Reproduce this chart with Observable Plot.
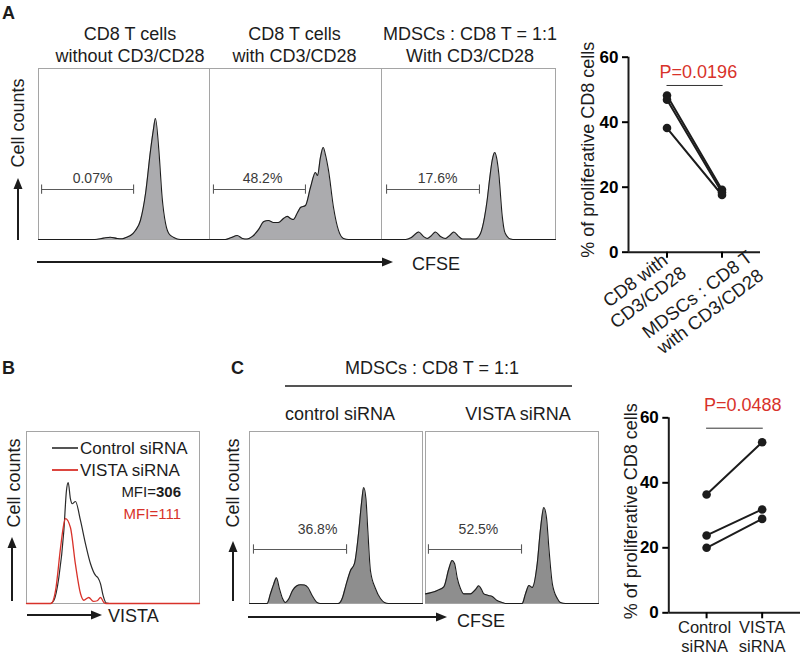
<!DOCTYPE html>
<html><head><meta charset="utf-8">
<script src="https://cdn.jsdelivr.net/npm/d3@7"></script>
<script src="https://cdn.jsdelivr.net/npm/@observablehq/plot@0.6"></script>
<style>
body{margin:0;background:#fff;}
#fig{position:relative;width:800px;height:657px;overflow:hidden;background:#fff;font-family:"Liberation Sans",Arial,Helvetica,sans-serif;}
.pos{position:absolute;}
</style></head><body><div id="fig"></div>
<script>
// ---------- DATA ----------
// CFSE histograms: [channel (0-100), relative count (0-100)]
const histA1 = [[0,0],[33,0],[38,0.8],[42,1.3],[46,0.6],[49,0.4],[52,1.5],[53.8,2.3],[56.7,5.3],[59.6,11.1],[62.6,26.9],[65.5,52],[67.1,63.7],[68.4,70.8],[70.4,52],[72.3,24.6],[74.3,9.4],[76.2,3.5],[79.1,1.2],[83,0],[100,0]];
const histA2 = [[0,0],[9.3,0],[12.8,1.2],[16.1,2.3],[19.2,0.6],[21.9,0.3],[25,1.8],[28.5,5.8],[31.6,10.5],[34.3,11.1],[37.2,9.9],[40.1,9.9],[43,12.3],[45.2,13.5],[47.1,12.3],[48.8,11.7],[51.2,15.8],[52.9,18.7],[55.8,19.9],[58.7,30.4],[61.6,39.2],[62.8,37.4],[64.5,48],[66.1,53.8],[67.4,49.7],[69.2,40.4],[72.1,18.7],[75,5.3],[77.9,0.6],[80.8,0],[100,0]];
const histA3 = [[0,0],[13.8,0],[17.2,1.2],[21.4,4.4],[24.1,1.8],[26.3,0.6],[28.7,2.3],[31,4.4],[33.9,1.8],[36.8,0.6],[39.1,2.3],[41.6,4.4],[44.3,1.8],[46.6,0.3],[54,0.3],[56.9,3.5],[59.2,12.9],[60.7,22.8],[62.1,35],[63.6,46.2],[65.1,50.9],[66.1,48],[67.4,38.6],[69.4,13.5],[70.7,4.7],[72.2,1.8],[74.1,0.3],[77,0],[100,0]];
const histC1 = [[0,0],[10.2,0],[12.1,5.6],[13.9,11],[15.6,14.9],[17.3,8.7],[19.1,2.9],[20.8,0.6],[22.5,2.3],[24.9,7.6],[27.2,10.2],[29.5,10.9],[31.8,10.8],[33.8,9.3],[36.2,4.7],[39.1,0.6],[41,0],[51.4,0],[53.8,3.5],[55.5,9.7],[58.4,19.2],[60.7,23.3],[63.2,42.4],[64.7,58],[66,67.4],[67.3,61],[68.4,42.4],[69.9,19.2],[72.8,8.7],[75.7,2.9],[78,0.6],[80.3,0],[100,0]];
const histC2 = [[0,5.6],[6.8,7.6],[10.6,9.7],[13.5,20.2],[15.4,25],[16.8,23.3],[18.3,15.1],[20.2,8.7],[22.1,5.6],[26,5.6],[28.9,8.1],[30.8,10.3],[32.4,8.1],[33.7,5.6],[36.4,4.7],[38.6,4.1],[41.4,1.7],[44.3,0.6],[46.2,0],[55.9,0],[57.8,5.6],[59.8,10.5],[61.7,9.3],[64.6,23.3],[66.5,43.6],[68.4,55.8],[70,49.4],[71.3,32.6],[73.3,11.6],[76.2,2.9],[78,0.6],[80.9,0],[100,0]];
// VISTA histograms
const histBctrl = [[0,0],[13.9,0],[15.8,1.7],[18.7,15.1],[21.6,42.4],[23.1,65.7],[24.1,70.3],[25.4,60.8],[26.4,58],[28.3,59.3],[31.2,48.3],[34.1,34.7],[37,23.1],[39.9,16.3],[41.2,15.1],[42.8,11.4],[44.3,4.6],[46.2,0.2],[48,0],[100,0]];
const histBvista = [[0,0],[13.9,0],[14.9,0.6],[16.8,7.6],[19.7,32.6],[21.2,44],[22.5,49.4],[25.4,44.2],[28.3,22.7],[31.2,5.8],[33.1,1.9],[36,3.5],[38.6,1.2],[40.9,1.6],[42.8,3.5],[44.7,0.6],[46.2,0],[100,0]];
// gates: [start, end], gate height, label
const gateA = [[1.8,55.6],[2.3,55.8],[2.9,56.3]];
const gateAy = 29.2;
const gateAlabels = ["0.07%","48.2%","17.6%"];
const gateAlabelX = [31.6,30.8,32.2];
const gateC = [[2.3,56.1],[1.7,55.5]];
const gateCy = 31.4;
const gateClabels = ["36.8%","52.5%"];
const gateClabelX = [39.3,30.6];
// paired proliferation data (%)
const catsA = ["CD8 with\nCD3/CD28","MDSCs : CD8 T\nwith CD3/CD28"];
const pairA_first = [48.2, 46.9, 38.2];
const pairA_second = [19.2, 18.4, 17.6];
const catsC = ["Control\nsiRNA","VISTA\nsiRNA"];
const pairC_first = [36.4, 23.8, 20.0];
const pairC_second = [52.5, 31.8, 28.9];
const yTicks = [0,20,40,60];
const pA = "P=0.0196", pC = "P=0.0488";
const sigBarA = 51.3, sigBarC = 56.8;
// titles
const titlesA = [["CD8 T cells","without CD3/CD28"],["CD8 T cells","with CD3/CD28"],["MDSCs : CD8 T = 1:1","With CD3/CD28"]];
const titlesC = ["control siRNA","VISTA siRNA"];
const legendB = ["Control siRNA","VISTA siRNA"];
const mfiB = ["306","111"];

// ---------- STYLE ----------
const FONT = '"Liberation Sans", Arial, Helvetica, sans-serif';
const RED = "#d8322a";
const INK = "#1c1c1c";
const fig = document.getElementById("fig");
const baseStyle = {background:"transparent", overflow:"visible", fontFamily:FONT};

function place(el, left, top){
  const d = document.createElement("div");
  d.className = "pos"; d.style.left = left+"px"; d.style.top = top+"px";
  d.appendChild(el); fig.appendChild(d);
}

function hist(data, o){
  const marks = [
    Plot.frame({stroke:"#a5a5a5", strokeWidth:1}),
    Plot.areaY(data, {x:d=>d[0], y:d=>d[1], fill:o.fill, curve:"monotone-x"}),
    Plot.lineY(data, {x:d=>d[0], y:d=>d[1], stroke:INK, strokeWidth:1.1, curve:"monotone-x"}),
    Plot.ruleY([o.gateY], {x1:o.gate[0], x2:o.gate[1], stroke:"#5a5a5a", strokeWidth:1.1}),
    Plot.ruleX(o.gate, {y1:o.gateY-2.7, y2:o.gateY+2.7, stroke:"#5a5a5a", strokeWidth:1.1}),
    Plot.text([o.label], {x:o.labelX, y:o.labelY, fontSize:14, fill:"#3a3a3a"})
  ];
  const p = Plot.plot({
    width:o.w+4, height:o.h+4, margin:2,
    x:{domain:[0,100], axis:null}, y:{domain:[0,100], axis:null},
    style:baseStyle, marks
  });
  place(p, o.left-2, o.top-2);
}

// Panel A histograms
const framesA = [[38,171],[209,172],[381,174]];
[histA1,histA2,histA3].forEach((h,i)=>{
  hist(h, {left:framesA[i][0], top:68, w:framesA[i][1], h:171, fill:"#ababae",
    gate:gateA[i], gateY:gateAy, label:gateAlabels[i], labelX:gateAlabelX[i], labelY:35.7});
});
// Panel C histograms
const framesC = [[249,173],[425,173]];
[histC1,histC2].forEach((h,i)=>{
  hist(h, {left:framesC[i][0], top:431, w:framesC[i][1], h:172, fill:"#8e8e8e",
    gate:gateC[i], gateY:gateCy, label:gateClabels[i], labelX:gateClabelX[i], labelY:43});
});

// Panel B overlay histogram
{
  const p = Plot.plot({
    width:177, height:176, margin:2,
    x:{domain:[0,100], axis:null}, y:{domain:[0,100], axis:null},
    style:baseStyle,
    marks:[
      Plot.frame({stroke:"#a5a5a5"}),
      Plot.lineY(histBctrl, {x:d=>d[0], y:d=>d[1], stroke:"#2a2a2a", strokeWidth:1.2, curve:"monotone-x"}),
      Plot.lineY(histBvista, {x:d=>d[0], y:d=>d[1], stroke:RED, strokeWidth:1.3, curve:"monotone-x"})
    ]
  });
  place(p, 24, 429);
}

// paired plots
function paired(o){
  const rows = o.first.flatMap((v,i)=>[{pair:i,x:0,y:v},{pair:i,x:1,y:o.second[i]}]);
  const labelMarks = o.cats.map((c,i)=>Plot.text([c], {x:i, frameAnchor:"bottom", dx:o.lab[i][0], dy:o.lab[i][1],
    rotate:o.rot, textAnchor:"middle", lineAnchor:o.rot ? "middle" : "top", lineHeight:o.lh, fontSize:o.fs, fill:INK}));
  const p = Plot.plot({
    width:o.width, height:o.height, marginLeft:o.ml, marginRight:o.mr, marginTop:o.mt, marginBottom:o.mb,
    x:{domain:o.xdom}, y:{domain:[0,60]},
    style:baseStyle,
    marks:[
      Plot.ruleY([0], {stroke:INK, strokeWidth:2}),
      Plot.ruleX([o.xdom[0]], {stroke:INK, strokeWidth:2}),
      Plot.axisY({ticks:yTicks, tickSize:6, tickPadding:4, fontSize:17, fontWeight:"bold", strokeWidth:2, label:null}),
      Plot.axisX({ticks:[0,1], tickFormat:()=>"", tickSize:6, strokeWidth:2, label:null}),
      ...labelMarks,
      Plot.line(rows, {x:"x", y:"y", z:"pair", stroke:INK, strokeWidth:2}),
      Plot.dot(rows, {x:"x", y:"y", r:4.3, fill:INK}),
      Plot.ruleY([o.bar], {x1:0, x2:1.02, stroke:"#333", strokeWidth:1}),
      Plot.text([o.p], {x:o.px, y:o.py, fill:RED, fontSize:18}),
      Plot.text(["% of proliferative CD8 cells"], {frameAnchor:"left", dx:o.ldx, dy:o.ldy, rotate:-90, textAnchor:"middle", fontSize:18, fill:INK})
    ]
  });
  place(p, o.left, o.top);
}
paired({left:560, top:30, width:240, height:310, ml:68, mr:40, mt:26.7, mb:88.3, xdom:[-0.7,1.7],
  cats:catsA, first:pairA_first, second:pairA_second, rot:-37, lab:[[-25.7,36.3],[-18.7,50.3]], lh:1.15, fs:18.5,
  bar:sigBarA, p:pA, px:0.57, py:55.4, ldx:-40, ldy:-5});
paired({left:600, top:380, width:200, height:277, ml:68.3, mr:0, mt:37.3, mb:44.7, xdom:[-0.68,1.69],
  cats:catsC, first:pairC_first, second:pairC_second, rot:0, lab:[[-2,7],[0,7]], lh:1.15, fs:16.5,
  bar:sigBarC, p:pC, px:0.65, py:63.8, ldx:-38, ldy:-4});

// ---------- overlay text & arrows ----------
const ov = d3.create("svg").attr("width",800).attr("height",657)
  .style("position","absolute").style("left","0px").style("top","0px")
  .style("font-family",FONT).style("overflow","visible");
function txt(s,x,y,opt={}){
  const t = ov.append("text").attr("x",x).attr("y",y).attr("font-size",opt.size||18)
    .attr("fill",opt.fill||INK).attr("text-anchor",opt.anchor||"start")
    .attr("font-weight",opt.weight||"normal").text(s);
  if (opt.rot) t.attr("transform",`rotate(${opt.rot},${x},${y})`);
  return t;
}
function arrowUp(x,y0,y1){
  ov.append("line").attr("x1",x).attr("x2",x).attr("y1",y0).attr("y2",y1+9).attr("stroke",INK).attr("stroke-width",2);
  ov.append("path").attr("d",`M${x},${y1}L${x-4.5},${y1+11}L${x+4.5},${y1+11}Z`).attr("fill",INK);
}
function arrowRight(y,x0,x1){
  ov.append("line").attr("x1",x0).attr("x2",x1-9).attr("y1",y).attr("y2",y).attr("stroke",INK).attr("stroke-width",2);
  ov.append("path").attr("d",`M${x1},${y}L${x1-11},${y-4.5}L${x1-11},${y+4.5}Z`).attr("fill",INK);
}
// panel letters
txt("A",2,19,{weight:"bold"});
txt("B",2,373.5,{weight:"bold"});
txt("C",231,373.5,{weight:"bold"});
// A titles
const titleCx = [130,294.5,470];
titlesA.forEach((t,i)=>{ txt(t[0],titleCx[i],39.5,{anchor:"middle"}); txt(t[1],titleCx[i],61.5,{anchor:"middle"}); });
txt("Cell counts",24,123,{anchor:"middle",rot:-90});
arrowUp(18,240,178);
arrowRight(262,37,393);
txt("CFSE",412,269.5);
// B
txt("Cell counts",20,483,{anchor:"middle",rot:-90});
arrowUp(12,601,537);
arrowRight(615,27,102);
txt("VISTA",108,621.5);
ov.append("line").attr("x1",52).attr("x2",78).attr("y1",448).attr("y2",448).attr("stroke","#2a2a2a").attr("stroke-width",1.6);
ov.append("line").attr("x1",52).attr("x2",78).attr("y1",470).attr("y2",470).attr("stroke",RED).attr("stroke-width",1.8);
txt(legendB[0],80,454,{size:17});
txt(legendB[1],80,476,{size:17});
{
  const t1 = ov.append("text").attr("x",181).attr("y",497).attr("font-size",15).attr("text-anchor","end").attr("fill",INK);
  t1.append("tspan").text("MFI=");
  t1.append("tspan").attr("font-weight","bold").text(mfiB[0]);
  txt("MFI="+mfiB[1],181,518.5,{size:15,anchor:"end",fill:RED});
}
// C
txt("MDSCs : CD8 T = 1:1",432,373.5,{anchor:"middle"});
ov.append("line").attr("x1",285).attr("x2",572).attr("y1",386).attr("y2",386).attr("stroke",INK).attr("stroke-width",1.6);
txt(titlesC[0],340,420,{anchor:"middle"});
txt(titlesC[1],518,420,{anchor:"middle"});
txt("Cell counts",239,483,{anchor:"middle",rot:-90});
arrowUp(233,601,541);
arrowRight(617,248,447);
txt("CFSE",457,626.5);
fig.appendChild(ov.node());
</script></body></html>
